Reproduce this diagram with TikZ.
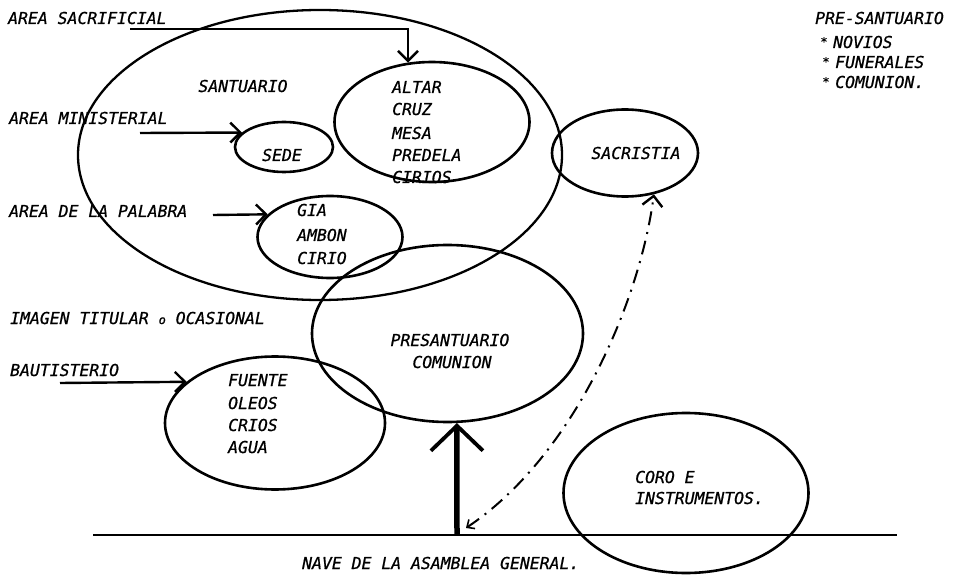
\documentclass[tikz,border=0pt]{standalone}
\usepackage{fontspec}
\newfontfamily\handfont[FakeBold=0.8]{DejaVu Sans Mono}
\usetikzlibrary{shapes.geometric,arrows.meta}
\begin{document}
\begin{tikzpicture}[x=1bp,y=-1bp,
  ell/.style={draw, ellipse, inner sep=0pt, line width=2.6bp},
  lbl/.style={font=\handfont\itshape\fontsize{16.5}{22}\selectfont, inner sep=0pt, anchor=base west},
  clbl/.style={lbl, anchor=base},
  bul/.style={font=\handfont\fontsize{12}{12}\selectfont, inner sep=0pt, anchor=base},
  conn/.style={line width=2.4bp, -{Straight Barb[length=10bp,width=20bp,line width=2.4bp]}},
  thick arrow/.style={line width=5.5bp, -{Straight Barb[length=25bp,width=52bp,line width=3.8bp]}},
  dashpat/.style={line width=2bp, dash pattern=on 14bp off 7bp on 2bp off 7bp,
     {Straight Barb[length=6bp,width=11bp,line width=1.6bp]}-{Straight Barb[length=10bp,width=20bp,line width=2.4bp]}},
]
\useasboundingbox (0,0) rectangle (962,576);

% ellipses
\node[ell, line width=2.3bp, minimum width=484bp, minimum height=290bp] (sant) at (320,155) {};
\node[ell, minimum width=195bp, minimum height=120bp] (altar) at (432,122) {};
\node[ell, minimum width=98bp, minimum height=50bp] (sede) at (284,147) {};
\node[ell, minimum width=145bp, minimum height=82bp] (gia) at (330,237) {};
\node[ell, minimum width=146bp, minimum height=87bp] (sac) at (625,153) {};
\node[ell, minimum width=271bp, minimum height=177bp] (pres) at (447.5,333.5) {};
\node[ell, minimum width=220bp, minimum height=133bp] (fuente) at (275,423) {};
\node[ell, minimum width=245bp, minimum height=160bp] (coro) at (686,493) {};

% base line
\coordinate (bl) at (93,535);
\coordinate (br) at (897,535);
\draw[line width=2.6bp] (bl) -- (br);

% arrow start points
\coordinate (sacS) at (130,29);
\coordinate (minS) at (140,133);
\coordinate (palS) at (213,215);
\coordinate (bauS) at (60,383);
\coordinate (thickS) at (457,535);
\coordinate (dS) at (466,528);

\draw[conn] (sacS) -| (altar.112);
\draw[conn] (minS) -- (sede.161);
\draw[conn] (palS) -- (gia.160);
\draw[conn] (bauS) -- (fuente.155);
\draw[thick arrow] (thickS) -- (pres.276);
\draw[dashpat] (dS) .. controls (575,455) and (640,300) .. (sac.305);

% texts
\node[lbl] (tsacr) at (8,24) {AREA SACRIFICIAL};
\node[clbl] (tsant) at (243,92) {SANTUARIO};
\node[lbl] (tmin) at (9,124) {AREA MINISTERIAL};
\node[clbl] (tsede) at (282,161) {SEDE};
\node[lbl] (ta1) at (392,93) {ALTAR};
\node[lbl] (ta2) at (392,115) {CRUZ};
\node[lbl] (ta3) at (392,139) {MESA};
\node[lbl] (ta4) at (392,161) {PREDELA};
\node[lbl] (ta5) at (392,183) {CIRIOS};
\node[lbl] (tpal) at (9,217) {AREA DE LA PALABRA};
\node[lbl] (tg1) at (297,216) {GIA};
\node[lbl] (tg2) at (297,241) {AMBON};
\node[lbl] (tg3) at (297,264) {CIRIO};
\node[clbl] (tsacr2) at (636,159) {SACRISTIA};
\node[lbl] (tpre) at (815,24) {PRE-SANTUARIO};
\node[bul] (b1) at (824,46) {*};
\node[bul] (b2) at (826,66) {*};
\node[bul] (b3) at (826,86) {*};
\node[lbl] (tp1) at (833,48) {NOVIOS};
\node[lbl] (tp2) at (835,68) {FUNERALES};
\node[lbl] (tp3) at (835,88) {COMUNION.};
\node[lbl] (timg) at (10,324) {IMAGEN TITULAR {\fontsize{12}{12}\selectfont o} OCASIONAL};
\node[clbl] (tpr1) at (450,346) {PRESANTUARIO};
\node[clbl] (tpr2) at (452,368) {COMUNION};
\node[lbl] (tbau) at (10,376) {BAUTISTERIO};
\node[lbl] (tf1) at (228,386) {FUENTE};
\node[lbl] (tf2) at (228,409) {OLEOS};
\node[lbl] (tf3) at (228,431) {CRIOS};
\node[lbl] (tf4) at (228,453) {AGUA};
\node[lbl] (tc1) at (635,483) {CORO E};
\node[lbl] (tc2) at (635,504) {INSTRUMENTOS.};
\node[lbl] (tnave) at (302,569) {NAVE DE LA ASAMBLEA GENERAL.};
\end{tikzpicture}
\end{document}
